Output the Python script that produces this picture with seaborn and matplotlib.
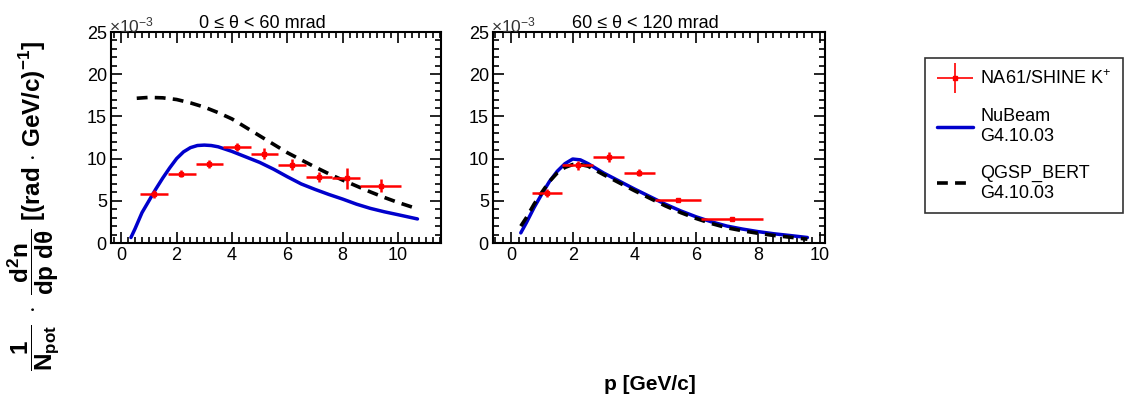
import numpy as np
import pandas as pd
import seaborn as sns
import matplotlib
import matplotlib.pyplot as plt
from matplotlib.ticker import MultipleLocator
from matplotlib.legend_handler import HandlerErrorbar

# NA61/SHINE K+ data (y in units of 1e-3)
p_lo_0 = [0.69, 1.68, 2.69, 3.67, 4.68, 5.65, 6.66, 7.63, 8.64]
p_hi_0 = [1.68, 2.69, 3.67, 4.68, 5.65, 6.66, 7.63, 8.64, 10.12]
p_c_0 = [1.2, 2.17, 3.18, 4.17, 5.16, 6.15, 7.15, 8.14, 9.39]
y_0 = [5.8, 8.2, 9.35, 11.4, 10.6, 9.3, 7.85, 7.65, 6.8]
yerr_0 = [0.5, 0.4, 0.5, 0.5, 0.6, 0.6, 0.6, 1.2, 0.8]

p_lo_1 = [0.67, 1.67, 2.66, 3.67, 4.67, 6.17]
p_hi_1 = [1.67, 2.66, 3.67, 4.67, 6.17, 8.17]
p_c_1 = [1.18, 2.18, 3.18, 4.15, 5.42, 7.16]
y_1 = [5.95, 9.2, 10.15, 8.35, 5.15, 2.85]
yerr_1 = [0.5, 0.5, 0.6, 0.4, 0.2, 0.2]

# NuBeam G4.10.03
nb_p_0 = [0.35, 0.5, 0.75, 1.0, 1.25, 1.5, 1.75, 2.0, 2.25, 2.5, 2.75, 3.0, 3.25, 3.5,
          4.0, 4.5, 5.0, 5.5, 6.0, 6.5, 7.0, 7.5, 8.0, 8.5, 9.0, 9.5, 10.0, 10.7]
nb_y_0 = [0.65, 1.7, 3.6, 5.0, 6.4, 7.7, 8.9, 10.0, 10.8, 11.3, 11.55, 11.6, 11.55, 11.4,
          10.85, 10.2, 9.55, 8.75, 7.85, 7.0, 6.35, 5.75, 5.2, 4.6, 4.1, 3.7, 3.35, 2.85]
nb_p_1 = [0.32, 0.5, 0.75, 1.0, 1.25, 1.5, 1.75, 2.0, 2.25, 2.5, 3.0, 3.5, 4.0, 4.5,
          5.0, 5.5, 6.0, 6.5, 7.0, 7.5, 8.0, 8.5, 9.0, 9.6]
nb_y_1 = [1.2, 2.4, 4.2, 5.8, 7.3, 8.5, 9.4, 9.95, 9.85, 9.4, 8.3, 7.35, 6.4, 5.5,
          4.6, 3.8, 3.1, 2.5, 2.0, 1.65, 1.35, 1.1, 0.9, 0.65]

# QGSP_BERT G4.10.03
qg_p_0 = [0.56, 1.0, 1.5, 2.0, 2.5, 3.0, 3.5, 4.0, 4.5, 5.0, 5.5, 6.0, 6.5, 7.0,
          7.5, 8.0, 8.5, 9.0, 9.5, 10.0, 10.7]
qg_y_0 = [17.15, 17.25, 17.2, 17.0, 16.6, 16.1, 15.45, 14.7, 13.7, 12.7, 11.7, 10.7, 9.85, 9.0,
          8.2, 7.45, 6.75, 6.05, 5.4, 4.8, 4.05]
qg_p_1 = [0.32, 0.5, 0.75, 1.0, 1.25, 1.5, 1.75, 2.0, 2.25, 2.5, 3.0, 3.5, 4.0, 4.5,
          5.0, 5.5, 6.0, 6.5, 7.0, 7.5, 8.0, 8.5, 9.0, 9.6]
qg_y_1 = [2.0, 3.0, 4.6, 6.0, 7.3, 8.3, 8.95, 9.3, 9.3, 9.1, 8.1, 7.15, 6.2, 5.3,
          4.4, 3.6, 2.9, 2.3, 1.8, 1.45, 1.15, 0.9, 0.7, 0.45]

titles = ["0 \u2264 \u03b8 < 60 mrad", "60 \u2264 \u03b8 < 120 mrad"]
xlims = [(-0.37, 11.55), (-0.58, 10.17)]

sns.set_style("ticks")
plt.rcParams["font.family"] = ["Liberation Sans", "DejaVu Sans"]
plt.rcParams["mathtext.fontset"] = "custom"
plt.rcParams["mathtext.rm"] = "Liberation Sans"
plt.rcParams["mathtext.it"] = "Liberation Sans"
plt.rcParams["mathtext.bf"] = "Liberation Sans:bold"
for key in ["text.color", "axes.labelcolor", "xtick.color", "ytick.color",
            "axes.edgecolor"]:
    plt.rcParams[key] = "black"

f = plt.figure(figsize=(11.3, 4.03), dpi=100)
ax0 = f.add_axes([111 / 1130, 160 / 403, 330 / 1130, 211 / 403])
ax1 = f.add_axes([493 / 1130, 160 / 403, 332 / 1130, 211 / 403])
axs = [ax0, ax1]

data = [
    (p_lo_0, p_hi_0, p_c_0, y_0, yerr_0, nb_p_0, nb_y_0, qg_p_0, qg_y_0),
    (p_lo_1, p_hi_1, p_c_1, y_1, yerr_1, nb_p_1, nb_y_1, qg_p_1, qg_y_1),
]

for i, ax in enumerate(axs):
    p_lo, p_hi, p_c, y, yerr, nb_p, nb_y, qg_p, qg_y = data[i]
    df_nb = pd.DataFrame({"p": nb_p, "y": nb_y})
    df_qg = pd.DataFrame({"p": qg_p, "y": qg_y})
    sns.lineplot(data=df_qg, x="p", y="y", ax=ax, color="black", lw=2.6,
                 linestyle=(0, (3.0, 2.0)), zorder=3)
    sns.lineplot(data=df_nb, x="p", y="y", ax=ax, color="#0000cc", lw=2.5, zorder=2)
    p_c = np.array(p_c)
    xerr = [p_c - np.array(p_lo), np.array(p_hi) - p_c]
    ax.errorbar(p_c, y, xerr=xerr, yerr=yerr, fmt="s", color="red", ms=3.5,
                elinewidth=1.8, capsize=0, zorder=4)
    ax.set_xlim(*xlims[i])
    ax.set_ylim(0, 25)
    ax.set_xlabel("")
    ax.set_ylabel("")
    ax.xaxis.set_major_locator(MultipleLocator(2))
    ax.xaxis.set_minor_locator(MultipleLocator(0.25))
    ax.yaxis.set_major_locator(MultipleLocator(5))
    ax.yaxis.set_minor_locator(MultipleLocator(1))
    ax.tick_params(which="both", direction="in", top=True, right=True,
                   labelsize=13, width=1.2, color="black", pad=3)
    ax.tick_params(which="major", length=8)
    ax.tick_params(which="minor", length=4)
    for s in ax.spines.values():
        s.set_linewidth(1.5)
    ax.set_title(titles[i], fontsize=13, x=0.46, pad=2)
    ax.text(-0.005, 0.985, r"$\times$10$^{-3}$", transform=ax.transAxes, fontsize=12.5,
            color="#333333", ha="left", va="bottom")

# legend handles (thinner cross for the data, as in the original)
h_da = ax1.errorbar([], [], xerr=[], yerr=[], fmt="s", color="red", ms=3,
                    elinewidth=1.2, capsize=0)
h_nb = plt.Line2D([], [], color="#0000cc", lw=2.5)
h_qg = plt.Line2D([], [], color="black", lw=2.6, linestyle=(0, (3.0, 2.0)))
leg = f.legend([h_da, h_nb, h_qg],
               ["NA61/SHINE K$^{+}$", "NuBeam\nG4.10.03", "QGSP_BERT\nG4.10.03"],
               loc="upper left", bbox_to_anchor=(925 / 1130, 1 - 58 / 403),
               borderaxespad=0, fontsize=13, frameon=True, fancybox=False,
               edgecolor="black", handlelength=2.0, labelspacing=1.1, borderpad=0.65,
               handletextpad=0.4,
               handler_map={h_da: HandlerErrorbar(xerr_size=1.0, yerr_size=0.85)})
leg.get_frame().set_linewidth(1.2)

f.text(0.03, 0.489,
       r"$\mathbf{\dfrac{1}{N_{pot}}}\ \cdot\ \mathbf{\dfrac{d^{2}n}{dp\ d\theta}}$"
       r" [(rad $\cdot$ GeV/c)$^{\mathbf{-1}}$]",
       rotation=90, ha="center", va="center", fontsize=17.5, fontweight="bold")
f.text(0.575, 0.045, "p [GeV/c]", ha="center", va="center", fontsize=15,
       fontweight="bold")

plt.savefig("out.png", dpi=100)
